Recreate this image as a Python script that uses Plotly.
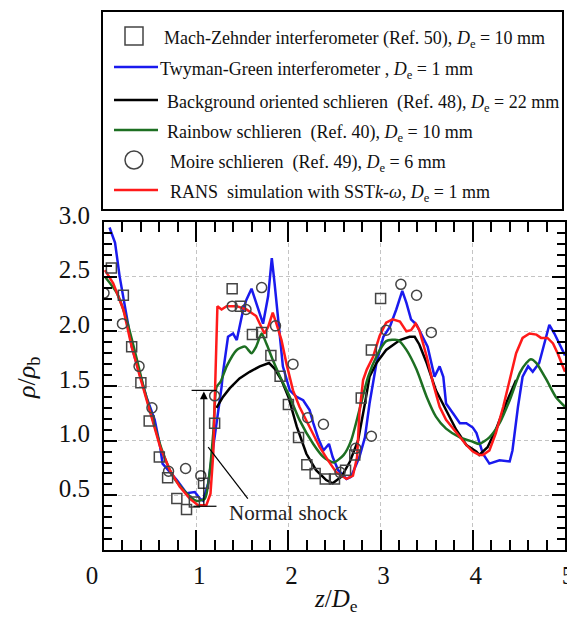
import plotly.graph_objects as go

# ---------------- data ----------------
mz_x = [0.08, 0.21, 0.30, 0.40, 0.49, 0.60, 0.69, 0.79, 0.895, 0.98, 1.08, 1.20,
        1.39, 1.48, 1.61, 1.71, 1.81, 1.91, 2.00, 2.11, 2.20, 2.29, 2.40, 2.50,
        2.62, 2.72, 2.79, 2.90, 3.00]
mz_y = [2.58, 2.33, 1.86, 1.53, 1.18, 0.85, 0.66, 0.47, 0.37, 0.44, 0.61, 1.16,
        2.39, 2.23, 1.97, 1.99, 1.78, 1.59, 1.33, 1.03, 0.78, 0.70, 0.65, 0.65,
        0.73, 0.87, 1.39, 1.83, 2.30]

moire_x = [0.00, 0.20, 0.38, 0.52, 0.70, 0.885, 1.05, 1.20, 1.39, 1.54, 1.71, 1.86,
           2.05, 2.21, 2.38, 2.56, 2.73, 2.90, 3.06, 3.22, 3.39, 3.55]
moire_y = [2.35, 2.07, 1.68, 1.30, 0.72, 0.745, 0.68, 1.41, 2.23, 2.20, 2.40, 2.05,
           1.70, 1.21, 1.15, 0.71, 0.93, 1.04, 2.01, 2.43, 2.33, 1.99]

tg_x = [0.06, 0.12, 0.17, 0.21, 0.26, 0.30, 0.39, 0.46, 0.55, 0.61, 0.635, 0.70, 0.79,
        0.895, 0.985, 1.04, 1.075, 1.13, 1.18, 1.24, 1.275, 1.29, 1.345, 1.40, 1.44,
        1.51, 1.545, 1.60, 1.65, 1.725, 1.78, 1.82, 1.85, 1.89, 1.94, 2.015, 2.09,
        2.16, 2.23, 2.27, 2.32, 2.38, 2.44, 2.48, 2.54, 2.63, 2.68, 2.77, 2.83, 2.88,
        2.955, 3.03, 3.10, 3.17, 3.235, 3.28, 3.33, 3.39, 3.44, 3.51, 3.585, 3.64,
        3.68, 3.71, 3.785, 3.86, 3.93, 4.00, 4.04, 4.11, 4.18, 4.29, 4.40, 4.43,
        4.49, 4.54, 4.60, 4.65, 4.72, 4.80, 4.83, 4.885, 4.94, 5.0]
tg_y = [2.95, 2.81, 2.50, 2.32, 2.07, 1.86, 1.59, 1.40, 1.19, 0.94, 0.79, 0.73, 0.64,
        0.52, 0.53, 0.47, 0.45, 0.61, 0.91, 1.31, 1.49, 1.62, 1.95, 1.98, 1.92,
        2.20, 2.29, 2.39, 2.26, 2.07, 2.32, 2.67, 2.44, 2.11, 1.68, 1.46, 1.40,
        1.37, 1.28, 1.16, 1.03, 0.91, 0.97, 0.85, 0.73, 0.65, 0.67, 0.85, 1.03, 1.34,
        1.71, 1.95, 2.04, 2.20, 2.37, 2.26, 2.11, 2.06, 1.98, 1.86, 1.585, 1.68,
        1.585, 1.34, 1.25, 1.16, 1.16, 1.12, 1.07, 0.88, 0.79, 0.82, 0.81, 0.91,
        1.31, 1.585, 1.68, 1.63, 1.71, 1.95, 2.06, 1.98, 1.89, 1.78]

bos_x = [1.22, 1.29, 1.365, 1.47, 1.58, 1.69, 1.79, 1.85, 1.925, 2.00, 2.09, 2.195,
         2.30, 2.41, 2.48, 2.575, 2.665, 2.755, 2.83, 2.88, 2.955, 3.06, 3.21, 3.315,
         3.37, 3.42, 3.50, 3.60, 3.71, 3.82, 3.93, 4.04, 4.07, 4.16, 4.25, 4.36, 4.47]
bos_y = [1.30, 1.40, 1.48, 1.57, 1.63, 1.68, 1.71, 1.66, 1.555, 1.40, 1.13, 0.88,
         0.73, 0.64, 0.61, 0.67, 0.805, 1.00, 1.34, 1.585, 1.71, 1.83, 1.92, 1.95,
         1.95, 1.88, 1.71, 1.46, 1.28, 1.10, 0.96, 0.90, 0.87, 0.94, 1.10, 1.34, 1.555]

rb_x = [0.01, 0.14, 0.245, 0.34, 0.43, 0.52, 0.63, 0.75, 0.895, 1.00, 1.095, 1.14,
        1.185, 1.22, 1.265, 1.33, 1.44, 1.53, 1.60, 1.65, 1.71, 1.76, 1.83, 1.91,
        2.015, 2.12, 2.27, 2.38, 2.49, 2.60, 2.68, 2.77, 2.865, 2.955, 3.06, 3.19,
        3.28, 3.39, 3.50, 3.60, 3.71, 3.86, 4.00, 4.07, 4.18, 4.29, 4.40, 4.51,
        4.58, 4.63, 4.69, 4.80, 4.90, 5.0]
rb_y = [2.50, 2.35, 2.105, 1.80, 1.49, 1.22, 0.91, 0.67, 0.52, 0.45, 0.47, 0.67,
        1.07, 1.49, 1.54, 1.68, 1.83, 1.86, 1.80, 1.86, 1.98, 1.89, 1.74, 1.585,
        1.40, 1.19, 0.97, 0.85, 0.80, 0.87, 1.00, 1.28, 1.585, 1.77, 1.91, 1.92,
        1.83, 1.65, 1.40, 1.22, 1.11, 1.03, 0.99, 0.97, 1.03, 1.16, 1.37, 1.62,
        1.71, 1.745, 1.71, 1.555, 1.40, 1.31]

rans_x = [0.01, 0.10, 0.21, 0.30, 0.39, 0.50, 0.61, 0.715, 0.82, 0.93, 1.02, 1.11,
          1.155, 1.185, 1.21, 1.23, 1.275, 1.33, 1.44, 1.545, 1.65, 1.74, 1.78, 1.83,
          1.87, 1.925, 1.98, 2.05, 2.12, 2.23, 2.34, 2.43, 2.52, 2.63, 2.70, 2.745,
          2.77, 2.81, 2.85, 2.92, 2.99, 3.06, 3.13, 3.21, 3.28, 3.33, 3.38, 3.42,
          3.50, 3.57, 3.64, 3.71, 3.82, 3.93, 4.00, 4.07, 4.11, 4.18, 4.25, 4.33,
          4.40, 4.47, 4.54, 4.615, 4.69, 4.74, 4.81, 4.87, 4.92, 5.0]
rans_y = [2.56, 2.44, 2.20, 1.86, 1.585, 1.25, 0.94, 0.73, 0.58, 0.47, 0.41, 0.41,
          0.515, 0.88, 1.52, 2.23, 2.20, 2.23, 2.23, 2.20, 2.14, 1.98, 2.04, 2.17,
          2.07, 1.92, 1.70, 1.46, 1.31, 1.13, 0.94, 0.82, 0.71, 0.65, 0.68, 0.85,
          1.25, 1.555, 1.65, 1.77, 1.96, 2.08, 2.11, 2.09, 2.00, 2.01, 2.07, 2.01,
          1.77, 1.52, 1.31, 1.19, 1.07, 0.96, 0.90, 0.87, 0.87, 0.91, 1.07, 1.31,
          1.555, 1.80, 1.94, 1.98, 1.97, 1.94, 1.94, 1.89, 1.80, 1.63]

y_ticks = [0.5, 1.0, 1.5, 2.0, 2.5, 3.0]
y_ticklabels = ["0.5", "1.0", "1.5", "2.0", "2.5", "3.0"]
x_ticks = [0, 1, 2, 3, 4, 5]
x_ticklabels = ["0\u2003\u2009", "1", "2", "3", "4", "5"]

legend_labels = [
    "Mach-Zehnder interferometer (Ref. 50), <i>D</i><sub>e</sub> = 10 mm",
    "Twyman-Green interferometer , <i>D</i><sub>e</sub> = 1 mm",
    "Background oriented schlieren\u00a0 (Ref. 48), <i>D</i><sub>e</sub> = 22 mm",
    "Rainbow schlieren\u00a0 (Ref. 40), <i>D</i><sub>e</sub> = 10 mm",
    "Moire schlieren\u00a0 (Ref. 49), <i>D</i><sub>e</sub> = 6 mm",
    "RANS\u00a0 simulation with SST<i>k</i>-<i>ω</i>, <i>D</i><sub>e</sub> = 1 mm",
]

# ---------------- style ----------------
FONT = "Liberation Serif"
BLUE = "#1a1aee"
BLACK = "#000000"
GREEN = "#1d6f22"
RED = "#ff1a1a"
MK = "#444444"

# page offset (default body margin of the html page)
OFF = 8
W, H = 575 - OFF, 618 - OFF
PLEFT, PRIGHT, PTOP, PBOT = 104, 565, 222, 550   # plot area in page pixels
L, T = PLEFT - OFF, PTOP - OFF
R, B = W - (PRIGHT - OFF), H - (PBOT - OFF)
PW, PH = PRIGHT - PLEFT, PBOT - PTOP


def px(xp):
    return (xp - PLEFT) / PW


def py(yp):
    return (PBOT - yp) / PH


fig = go.Figure()
fig.add_trace(go.Scatter(x=tg_x, y=tg_y, mode="lines", line=dict(color=BLUE, width=2.5)))
fig.add_trace(go.Scatter(x=bos_x, y=bos_y, mode="lines", line=dict(color=BLACK, width=2.5)))
fig.add_trace(go.Scatter(x=rb_x, y=rb_y, mode="lines",
                         line=dict(color=GREEN, width=2.5, shape="spline", smoothing=0.6)))
fig.add_trace(go.Scatter(x=rans_x, y=rans_y, mode="lines", line=dict(color=RED, width=2.5)))
fig.add_trace(go.Scatter(x=mz_x, y=mz_y, mode="markers",
                         marker=dict(symbol="square-open", size=10, color=MK,
                                     line=dict(width=1.5, color=MK))))
fig.add_trace(go.Scatter(x=moire_x, y=moire_y, mode="markers",
                         marker=dict(symbol="circle-open", size=10, color=MK,
                                     line=dict(width=1.5, color=MK))))

shapes = []
annotations = []

# Normal shock marks
shapes.append(dict(type="line", xref="x", yref="y", x0=0.95, x1=1.22, y0=1.46, y1=1.46,
                   line=dict(color="black", width=1.2)))
shapes.append(dict(type="line", xref="x", yref="y", x0=0.97, x1=1.22, y0=0.40, y1=0.40,
                   line=dict(color="black", width=1.2)))
shapes.append(dict(type="line", xref="x", yref="y", x0=1.13, x1=1.56, y0=0.94, y1=0.47,
                   line=dict(color="black", width=1.2)))
annotations.append(dict(xref="x", yref="y", axref="x", ayref="y", x=1.083, y=1.45,
                        ax=1.083, ay=0.40, text="", showarrow=True, arrowhead=2,
                        arrowsize=1.3, arrowwidth=1.2, arrowcolor="black"))
annotations.append(dict(xref="x", yref="y", x=2.0, y=0.335, text="Normal shock",
                        xanchor="center", yanchor="middle",
                        showarrow=False, font=dict(family=FONT, size=21, color="#222")))

# manual legend box
shapes.append(dict(type="rect", xref="paper", yref="paper", x0=px(102), x1=px(563),
                   y0=py(210), y1=py(11), line=dict(color="black", width=2),
                   fillcolor="white", layer="below"))
leg_y = [36, 67, 100, 130, 160, 190]
leg_tx = [162, 158, 165, 165, 168, 168]
leg_kind = ["square", BLUE, BLACK, GREEN, "circle", RED]
for yy, tx, kind, lab in zip(leg_y, leg_tx, leg_kind, legend_labels):
    if kind == "square":
        shapes.append(dict(type="rect", xref="paper", yref="paper", x0=px(125), x1=px(143),
                           y0=py(yy + 9), y1=py(yy - 9), line=dict(color=MK, width=1.5)))
    elif kind == "circle":
        shapes.append(dict(type="circle", xref="paper", yref="paper", x0=px(125), x1=px(143),
                           y0=py(yy + 9), y1=py(yy - 9), line=dict(color=MK, width=1.5)))
    else:
        shapes.append(dict(type="line", xref="paper", yref="paper", x0=px(114), x1=px(158),
                           y0=py(yy), y1=py(yy), line=dict(color=kind, width=2.5)))
    annotations.append(dict(xref="paper", yref="paper", x=px(tx), y=py(yy + 3), text=lab,
                            xanchor="left", yanchor="middle", showarrow=False,
                            font=dict(family=FONT, size=18, color="#111")))

# axis titles
annotations.append(dict(xref="paper", yref="paper", x=px(28), y=py(378),
                        text="<i>ρ</i>/<i>ρ</i><sub>b</sub>", textangle=-90,
                        xanchor="center", yanchor="middle",
                        showarrow=False, font=dict(family=FONT, size=26, color="#111")))
annotations.append(dict(xref="paper", yref="paper", x=px(336), y=py(600),
                        text="<i>z</i>/<i>D</i><sub>e</sub>",
                        xanchor="center", yanchor="middle",
                        showarrow=False, font=dict(family=FONT, size=25, color="#111")))

axis_common = dict(showline=True, linewidth=2, linecolor="black", mirror="ticks",
                   ticks="inside", tickcolor="black", tickwidth=2, automargin=False,
                   showgrid=True, gridcolor="#c4c4c4", griddash="4px,3px", gridwidth=1,
                   zeroline=False, tickfont=dict(family=FONT, size=25, color="#111"))

fig.update_layout(
    width=W, height=H, margin=dict(l=L, r=R, t=T, b=B, pad=0, autoexpand=False),
    paper_bgcolor="white", plot_bgcolor="white", showlegend=False,
    shapes=shapes, annotations=annotations,
    xaxis=dict(range=[0, 5], tickmode="array", tickvals=x_ticks, ticktext=x_ticklabels,
               ticklen=20, ticklabelstandoff=2, ticklabelshift=3,
               minor=dict(ticks="inside", tickmode="linear", tick0=0, dtick=0.2,
                          ticklen=10, tickwidth=1.5, tickcolor="black", showgrid=False),
               **axis_common),
    yaxis=dict(range=[0, 3], tickmode="array", tickvals=y_ticks, ticktext=y_ticklabels,
               ticklen=13, ticklabelstandoff=7, ticklabelshift=-7,
               minor=dict(ticks="inside", tickmode="linear", tick0=0, dtick=0.1,
                          ticklen=8, tickwidth=1.5, tickcolor="black", showgrid=False),
               **axis_common),
)

fig.write_html("out.html")
